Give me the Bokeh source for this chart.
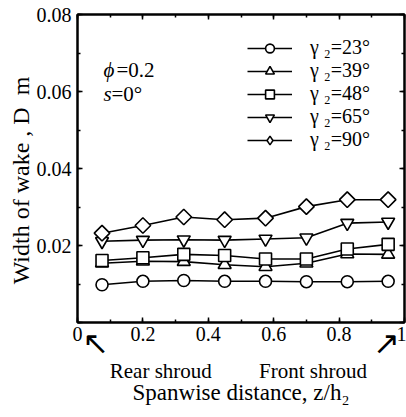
import math
from bokeh.plotting import figure
from bokeh.models import (Range1d, LinearAxis, Label, Legend, LegendItem,
                          SingleIntervalTicker, FixedTicker, CustomJSTickFormatter)
from bokeh.embed import file_html
from bokeh.resources import INLINE

# ---- data ----
z = [0.075, 0.2, 0.325, 0.45, 0.575, 0.7, 0.825, 0.95]
g23 = [0.0098, 0.0107, 0.0109, 0.0107, 0.0107, 0.0106, 0.0106, 0.0107]
g39 = [0.0154, 0.0159, 0.0158, 0.0150, 0.0145, 0.0154, 0.0178, 0.0177]
g48 = [0.0161, 0.0168, 0.0177, 0.0174, 0.0165, 0.0165, 0.0191, 0.0203]
g65 = [0.0211, 0.0214, 0.0215, 0.0214, 0.0217, 0.0220, 0.0258, 0.0261]
g90 = [0.0232, 0.0252, 0.0274, 0.0267, 0.0271, 0.0301, 0.0319, 0.0319]
series_labels = ["γ ₂=23°", "γ ₂=39°", "γ ₂=48°", "γ ₂=65°", "γ ₂=90°"]
x_title = "Spanwise distance, z/h₂"
y_title = "Width of wake , D\u2002m\u2002\u2002"
shroud_row = "Rear shroud\u2002\u2002\u2002\u2002\u2005Front shroud\u2005"
arrow_row = "↖" + "\u2003" * 8 + "\u2005" + "↗"

XMIN, XMAX = 0.0, 1.0
YMIN, YMAX = 0.0, 0.08

# frame placement in screen pixels
FX0, FX1, FY0, FY1 = 77, 404, 14, 322
W, H = 406, 417

def dx(sx):
    return XMIN + (sx - FX0) / (FX1 - FX0) * (XMAX - XMIN)

def dy(sy):
    return YMIN + (FY1 - sy) / (FY1 - FY0) * (YMAX - YMIN)

FONT = "Liberation Serif"

p = figure(width=W, height=H, x_range=Range1d(XMIN, XMAX), y_range=Range1d(YMIN, YMAX),
           title=None, output_backend="svg", toolbar_location=None,
           min_border_left=FX0, min_border_right=W - FX1,
           min_border_top=FY0, min_border_bottom=H - FY1)
p.grid.visible = False
p.outline_line_color = "black"
p.outline_line_width = 2
p.background_fill_color = "white"
p.border_fill_color = "white"

xt = SingleIntervalTicker(interval=0.2, num_minor_ticks=2)
yt = SingleIntervalTicker(interval=0.02, num_minor_ticks=2)

def style_axis(ax):
    ax.axis_line_width = 2
    ax.axis_line_color = "black"
    ax.major_tick_in = 5
    ax.major_tick_out = 0
    ax.minor_tick_in = 3
    ax.minor_tick_out = 0
    ax.major_tick_line_width = 1.5
    ax.minor_tick_line_width = 1.5
    ax.major_label_text_font = FONT
    ax.major_label_text_font_size = "20px"
    ax.major_label_text_color = "black"
    ax.axis_label_text_font = FONT
    ax.axis_label_text_font_style = "normal"
    ax.axis_label_text_color = "black"

xa = p.xaxis[0]
xa.ticker = xt
xa.formatter = CustomJSTickFormatter(code="""
if (Math.abs(tick) < 1e-9) return '0';
if (Math.abs(tick - 1) < 1e-9) return '1';
return tick.toFixed(1);""")
style_axis(xa)
xa.major_label_standoff = 4

ya = p.yaxis[0]
ya.ticker = yt
ya.formatter = CustomJSTickFormatter(code="""
if (Math.abs(tick) < 1e-9) return '';
return tick.toFixed(2);""")
style_axis(ya)
ya.major_label_standoff = 6
ya.axis_label = y_title
ya.axis_label_text_font_size = "24px"
ya.axis_label_standoff = 0

blank = CustomJSTickFormatter(code="return '';")
for loc, tk in (("above", xt), ("right", yt)):
    ax = LinearAxis(ticker=tk, formatter=blank)
    style_axis(ax)
    ax.major_label_standoff = 0
    p.add_layout(ax, loc)

# rows below the x axis (label-only axes): pointer arrows, shroud names, axis title
rows = ((arrow_row, "DejaVu Sans", "32px", -20),
        (shroud_row, FONT, "21px", -6),
        (x_title, FONT, "23px", -6))
for text, font, size, standoff in rows:
    ax = LinearAxis(ticker=FixedTicker(ticks=[], minor_ticks=[]), formatter=blank)
    style_axis(ax)
    ax.axis_line_alpha = 0
    ax.major_tick_in = 0
    ax.minor_tick_in = 0
    ax.major_label_standoff = 0
    ax.axis_label = text
    ax.axis_label_text_font = font
    ax.axis_label_text_font_size = size
    ax.axis_label_standoff = standoff
    p.add_layout(ax, "below")

# ---- series ----
markers = [("circle", 12, 0), ("triangle", 13, 0), ("square", 12, 0),
           ("inverted_triangle", 13, 0), ("square", 11, math.pi / 4)]
data = [g23, g39, g48, g65, g90]
p.extra_y_ranges = {"legend_proxy": Range1d(100, 200)}
items = []
lines = []
for ys in data:
    lines.append(p.line(z, ys, line_color="black", line_width=1.6))
for (mk, sz, ang), ys, lab, ln in zip(markers, data, series_labels, lines):
    sc = p.scatter(z, ys, marker=mk, size=sz, angle=ang, fill_color="white",
                   line_color="black", line_width=1.6)
    rends = [ln, sc]
    if ang != 0:
        # legend key drawn as an unrotated diamond (mapped off-frame on a proxy range)
        proxy = p.scatter(z, ys, y_range_name="legend_proxy", marker="diamond", size=24,
                          fill_color="white", line_color="black", line_width=1.5)
        rends = [ln, proxy]
    items.append(LegendItem(label=lab, renderers=rends))

legend = Legend(items=items, location=(247 - FX0, FY1 - 151),
                background_fill_alpha=0, border_line_alpha=0, padding=0, margin=0,
                glyph_width=45, glyph_height=22, label_height=22, spacing=0,
                label_standoff=18, label_text_font=FONT, label_text_font_size="20px",
                label_text_color="black")
p.add_layout(legend)

# ---- annotations inside the frame (data units) ----
def lab(text, sx, sy, size="21px", style="normal"):
    p.add_layout(Label(x=dx(sx), y=dy(sy), text=text, text_font=FONT, text_font_size=size,
                       text_font_style=style, text_align="left", text_baseline="alphabetic",
                       text_color="black"))

lab("ϕ", 103, 69, style="italic")
lab("=0.2", 116, 69)
lab("s", 103, 93, style="italic")
lab("=0°", 111, 93)

open("out.html", "w").write(file_html(p, INLINE))
